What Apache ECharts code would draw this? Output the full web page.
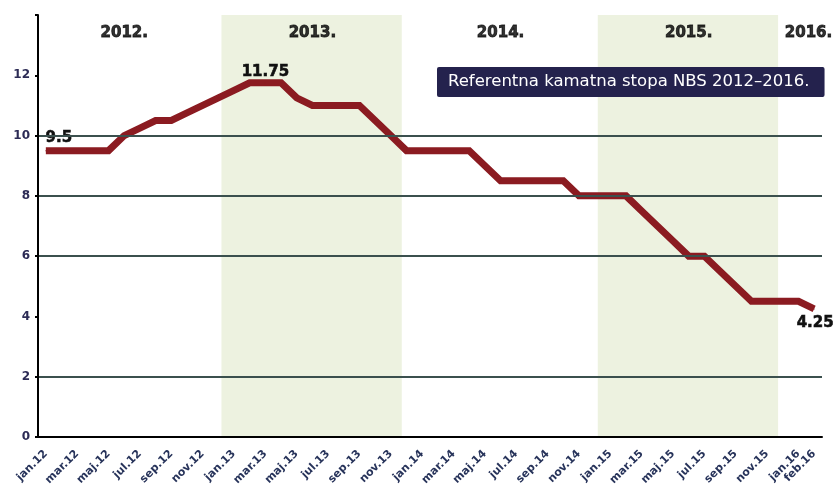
<!DOCTYPE html>
<html>
<head>
<meta charset="utf-8">
<script src="https://cdn.jsdelivr.net/npm/echarts@6/dist/echarts.min.js"></script>
<style>html,body{margin:0;padding:0;background:#fff}#c{width:836px;height:489px}</style>
</head>
<body>
<div id="c"></div>
<script>
// ---- DATA ----
var months = ['jan','feb','mar','apr','maj','jun','jul','avg','sep','okt','nov','dec'];
var categories = [];
['12','13','14','15'].forEach(function(y){ months.forEach(function(m){ categories.push(m + '.' + y); }); });
categories.push('jan.16', 'feb.16');

var rate2012 = [9.5, 9.5, 9.5, 9.5, 9.5, 10.0, 10.25, 10.5, 10.5, 10.75, 11.0, 11.25];
var rate2013 = [11.5, 11.75, 11.75, 11.75, 11.25, 11.0, 11.0, 11.0, 11.0, 10.5, 10.0, 9.5];
var rate2014 = [9.5, 9.5, 9.5, 9.5, 9.0, 8.5, 8.5, 8.5, 8.5, 8.5, 8.0, 8.0];
var rate2015 = [8.0, 8.0, 7.5, 7.0, 6.5, 6.0, 6.0, 5.5, 5.0, 4.5, 4.5, 4.5];
var rate2016 = [4.5, 4.25];
var rates = [].concat(rate2012, rate2013, rate2014, rate2015, rate2016);

var years = ['2012.', '2013.', '2014.', '2015.', '2016.'];
var yearSuffix = ['12', '13', '14', '15', '16'];
var shadedYears = ['2013.', '2015.'];
var gridValues = [2, 6, 8, 10];
var yTicks = [0, 2, 4, 6, 8, 10, 12];
var labeledMonths = ['jan.12', 'mar.13', 'feb.16'];
var titleText = 'Referentna kamatna stopa NBS 2012–2016.';

// ---- BUILD ----
function yearRange(i){
  var first = -1, last = -1;
  categories.forEach(function(c, k){ if (c.slice(-2) === yearSuffix[i]) { if (first < 0) first = k; last = k; } });
  return [first, last];
}
var yearLabelData = years.map(function(y, i){
  var r = yearRange(i);
  var item = { name: y, value: [(r[0] + r[1]) / 2, 13.4] };
  if (i === years.length - 1) item.label = { offset: [10, 0] };
  return item;
});
var bands = shadedYears.map(function(y){
  var r = yearRange(years.indexOf(y));
  return [{ xAxis: r[0] - 0.3 }, { xAxis: r[1] + 0.2 }];
});
var labelStyles = [
  { position: 'top', offset: [13, 0] },
  { position: 'top', offset: [0, 2] },
  { position: 'bottom', offset: [1, 1] }
];
var lineData = rates.map(function(v, k){
  var li = labeledMonths.indexOf(categories[k]);
  if (li < 0) return v;
  return { value: v, label: Object.assign({
    show: true, formatter: String(v), color: '#111', fontWeight: 'bold',
    fontSize: 15, fontFamily: 'DejaVu Sans', textBorderColor: '#111', textBorderWidth: 0.6
  }, labelStyles[li]) };
});

var chart = echarts.init(document.getElementById('c'));
chart.setOption({
  animation: false,
  backgroundColor: '#fff',
  title: {
    text: titleText,
    left: 437, top: 67,
    backgroundColor: '#24224d',
    padding: [6, 15, 7, 11],
    borderRadius: 2,
    textStyle: { color: '#fff', fontSize: 16.5, fontWeight: 'normal', fontFamily: 'DejaVu Sans' }
  },
  grid: { left: 38, right: 14, top: 15, bottom: 52 },
  xAxis: [{
    type: 'category', data: categories, boundaryGap: true, z: 5,
    axisLine: { lineStyle: { color: '#000', width: 2 } },
    axisTick: { interval: 1, length: 3, lineStyle: { color: '#000', width: 2 } },
    axisLabel: {
      interval: function(i){ return i % 2 === 0 || i === categories.length - 1; },
      rotate: 45, margin: 15, color: '#27335a', fontWeight: 'bold', fontSize: 11, fontFamily: 'DejaVu Sans'
    },
    splitLine: { show: false }
  }, {
    type: 'value', min: 0, max: categories.length, show: false
  }],
  yAxis: {
    type: 'value', min: 0, max: 14, interval: 2, z: 5,
    axisLine: { show: true, lineStyle: { color: '#000', width: 2 } },
    axisTick: { show: true, length: 3, lineStyle: { color: '#000', width: 2 } },
    axisLabel: {
      formatter: function(v){ return yTicks.indexOf(v) >= 0 ? String(v) : ''; },
      color: '#2c2b55', fontWeight: 'bold', fontSize: 12, fontFamily: 'DejaVu Sans', margin: 8
    },
    splitLine: { show: false }
  },
  series: [{
    type: 'line', xAxisIndex: 1, data: [], z: 1, silent: true,
    markArea: { silent: true, itemStyle: { color: '#edf2e0' }, data: bands }
  }, {
    type: 'line', xAxisIndex: 1, data: [], z: 2, silent: true,
    markLine: {
      silent: true, symbol: 'none', label: { show: false },
      lineStyle: { color: '#3b504e', width: 2, type: 'solid' },
      data: gridValues.map(function(v){ return { yAxis: v }; })
    }
  }, {
    type: 'scatter', xAxisIndex: 1, data: yearLabelData, symbolSize: 0, z: 4, silent: true,
    label: {
      show: true, position: 'inside', formatter: '{b}', color: '#000', fontWeight: 'bold',
      fontSize: 15, fontFamily: 'DejaVu Sans', textBorderColor: '#000', textBorderWidth: 0.8
    }
  }, {
    type: 'line', data: lineData, z: 3, symbol: 'circle', symbolSize: 1, showSymbol: true,
    itemStyle: { color: '#8b1b21' },
    lineStyle: { color: '#8b1b21', width: 7, join: 'miter' }
  }]
});
</script>
</body>
</html>
